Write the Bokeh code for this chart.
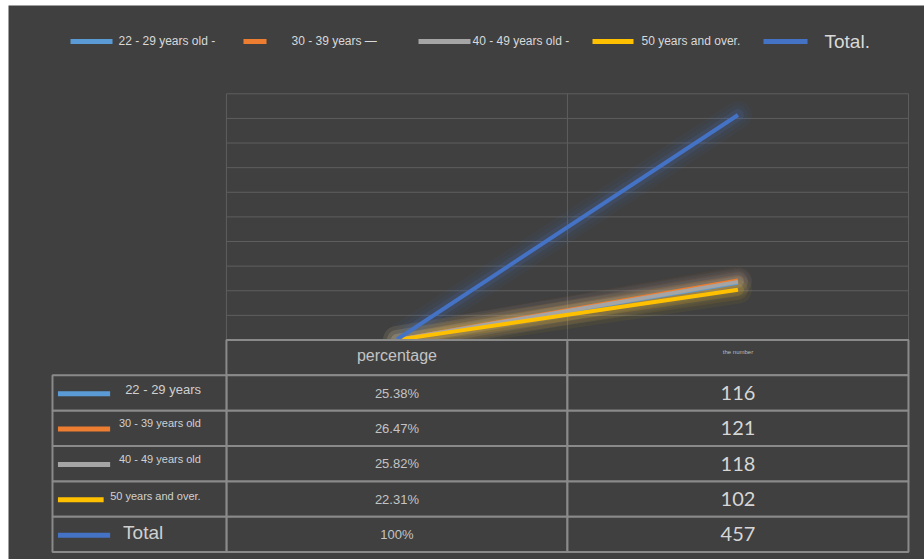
from bokeh.plotting import figure
from bokeh.models import Range1d
from bokeh.embed import file_html
from bokeh.resources import INLINE
from bokeh.core.properties import value

# ---------------- data ----------------
series = ["22 - 29 years", "30 - 39 years old", "40 - 49 years old", "50 years and over.", "Total"]
legend_labels = ["22 - 29 years old -", "30 - 39 years \u2014", "40 - 49 years old -", "50 years and over.", "Total."]
metrics = ["percentage", "the number"]
percentages = [0.2538, 0.2647, 0.2582, 0.2231, 1.00]
counts = [116, 121, 118, 102, 457]
y_ticks = [0, 50, 100, 150, 200, 250, 300, 350, 400, 450, 500]
colors = ["#5B9BD5", "#ED7D31", "#A5A5A5", "#FFC000", "#4472C4"]

BG = "#404040"
GRID = "#5e5e5e"
BORDER = "#8a8a8a"


def fmt_pct(v):
    s = f"{v * 100:.2f}"
    if s.endswith(".00"):
        s = s[:-3]
    return s + "%"


n = len(series)
m = len(metrics)
mx = [i + 0.5 for i in range(m)]          # category centres on the shared x scale

p = figure(width=916, height=554,
           x_range=Range1d(-0.639, 2.047), y_range=Range1d(559, 5),
           toolbar_location=None, output_backend="svg", min_border=0,
           x_axis_location=None, y_axis_location=None,
           background_fill_color=BG, border_fill_color=BG, outline_line_color=None,
           margin=(5, 0, 0, 8))
p.grid.visible = False
p.extra_x_ranges = {"px": Range1d(8, 924)}
p.extra_y_ranges = {"val": Range1d(-445.8, 679.3), "row": Range1d(6.209, -9.462)}

# ---------------- legend ----------------
leg_x0 = [70, 243, 418, 592, 763]
leg_x1 = [112, 266, 470, 633, 807]
leg_tx = [118, 291, 472, 641, 824]
leg_y = [41] * n
p.segment(x0=leg_x0, y0=leg_y, x1=leg_x1, y1=leg_y, line_color=colors, line_width=5,
          x_range_name="px")
p.text(x=leg_tx[:4], y=[40] * 4, text=legend_labels[:4], text_font_size="12px",
       text_baseline="middle", text_color="#d9d9d9", text_font=value("Liberation Sans"),
       x_range_name="px")
p.text(x=leg_tx[4:], y=[41], text=legend_labels[4:], text_font_size="19px",
       text_baseline="middle", text_color="#d9d9d9", text_font=value("Liberation Sans"),
       x_range_name="px")

# ---------------- line chart ----------------
p.segment(x0=[0] * len(y_ticks), x1=[m] * len(y_ticks), y0=y_ticks, y1=y_ticks,
          line_color=GRID, line_width=1, y_range_name="val")
p.segment(x0=[0, 1, m], x1=[0, 1, m], y0=[0, 0, 0], y1=[y_ticks[-1]] * 3,
          line_color=GRID, line_width=1, y_range_name="val")

for i in range(n):
    ys = [percentages[i], counts[i]]
    for w, a in [(28, 0.05), (20, 0.08), (12, 0.14)]:
        p.line(mx, ys, line_color=colors[i], line_width=w, line_alpha=a, line_cap="round",
               y_range_name="val")
for i in range(n):
    ys = [percentages[i], counts[i]]
    p.line(mx, ys, line_color=colors[i], line_width=4, y_range_name="val")

# ---------------- data table ----------------
cl, cr, ct, cb = [], [], [], []
for c in range(m):
    for r in range(n + 1):
        cl.append(c); cr.append(c + 1); ct.append(r); cb.append(r + 1)
for r in range(1, n + 1):
    cl.append(-0.51); cr.append(0); ct.append(r); cb.append(r + 1)
p.quad(left=cl, right=cr, top=ct, bottom=cb, fill_color=BG, fill_alpha=1,
       line_color=BORDER, line_width=2, y_range_name="row")

# headers
p.text(x=mx[:1], y=[0.45], text=metrics[:1], text_align="center", text_baseline="middle",
       text_font_size="16px", text_color="#c4c4c4", text_font=value("Liberation Sans"),
       y_range_name="row")
p.text(x=mx[1:], y=[0.35], text=metrics[1:], text_align="center", text_baseline="middle",
       text_font_size="6px", text_color="#bdbdbd", text_font=value("Liberation Sans"),
       y_range_name="row")

rows = [r + 1.5 for r in range(n)]
p.text(x=[mx[0]] * n, y=rows, text=[fmt_pct(v) for v in percentages], text_align="center",
       text_baseline="middle", text_font_size="13px", text_color="#c4c4c4",
       text_font=value("Liberation Sans"), y_range_name="row")
p.text(x=[mx[1]] * n, y=rows, text=[str(v) for v in counts], text_align="center",
       text_baseline="middle", text_font_size="20px", text_color="#d6d6d6",
       text_font=value("Lato"), y_range_name="row")

key_x0 = [-0.494] * n
key_x1 = [-0.341, -0.341, -0.341, -0.36, -0.341]
key_y = [r + 0.02 for r in rows]
p.segment(x0=key_x0, y0=key_y, x1=key_x1, y1=key_y, line_color=colors, line_width=5,
          y_range_name="row")
lab_x = [-0.297, -0.315, -0.315, -0.341, -0.303]
lab_dy = [-0.11, -0.15, -0.13, -0.1, -0.05]
lab_fs = ["13px", "11px", "11px", "11px", "19px"]
p.text(x=lab_x, y=[r + d for r, d in zip(rows, lab_dy)], text=series, text_align="left",
       text_baseline="middle", text_font_size=lab_fs, text_color="#d0d0d0",
       text_font=value("Liberation Sans"), y_range_name="row")

open("out.html", "w").write(file_html(p, INLINE))
